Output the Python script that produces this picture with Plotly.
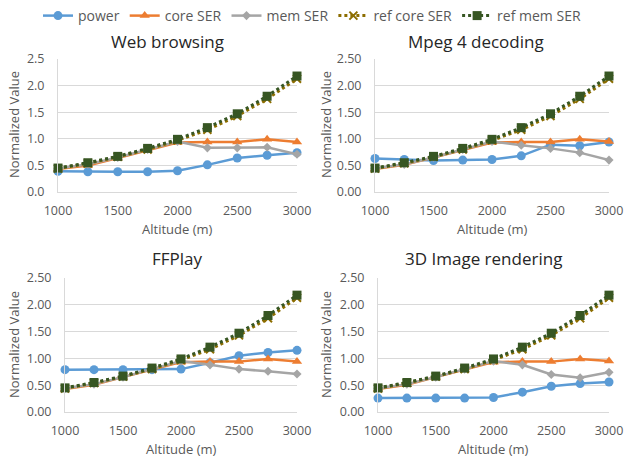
import plotly.graph_objects as go

W, H = 624, 463

altitude = [1000, 1250, 1500, 1750, 2000, 2250, 2500, 2750, 3000]
x_ticks = [1000, 1500, 2000, 2500, 3000]

panel_titles = ["Web browsing", "Mpeg 4 decoding", "FFPlay", "3D Image rendering"]

power = [
    [0.39, 0.38, 0.38, 0.38, 0.40, 0.51, 0.64, 0.69, 0.74],
    [0.63, 0.61, 0.59, 0.60, 0.61, 0.68, 0.89, 0.87, 0.94],
    [0.79, 0.79, 0.79, 0.79, 0.80, 0.92, 1.05, 1.11, 1.15],
    [0.26, 0.26, 0.26, 0.26, 0.27, 0.37, 0.48, 0.53, 0.56],
]
core_ser = [
    [0.43, 0.50, 0.64, 0.79, 0.93, 0.94, 0.94, 0.99, 0.94],
    [0.43, 0.51, 0.65, 0.79, 0.93, 0.94, 0.94, 0.99, 0.95],
    [0.43, 0.51, 0.65, 0.79, 0.93, 0.94, 0.94, 0.99, 0.94],
    [0.43, 0.51, 0.65, 0.79, 0.93, 0.94, 0.94, 0.99, 0.95],
]
mem_ser = [
    [0.44, 0.52, 0.65, 0.80, 0.95, 0.83, 0.83, 0.84, 0.71],
    [0.44, 0.52, 0.65, 0.80, 0.95, 0.88, 0.82, 0.74, 0.60],
    [0.44, 0.52, 0.65, 0.80, 0.95, 0.88, 0.80, 0.76, 0.71],
    [0.44, 0.52, 0.65, 0.80, 0.95, 0.88, 0.70, 0.64, 0.74],
]
ref_core_ser = [0.44, 0.54, 0.66, 0.80, 0.97, 1.17, 1.43, 1.75, 2.13]
ref_mem_ser = [0.45, 0.55, 0.67, 0.82, 0.99, 1.21, 1.47, 1.80, 2.18]

y_formats = [".1f", ".2f", ".2f", ".2f"]
y_ticks = [0, 0.5, 1.0, 1.5, 2.0, 2.5]

# plot-area pixel boxes (left, right, top, bottom)
boxes = [(58, 297, 59, 192), (375, 609, 59, 192), (65, 297, 278, 412), (378, 609, 278, 412)]
title_px = [(167, 42), (476, 42), (177, 258), (483, 258)]
ytitle_px = [(14, 125), (326, 125), (14, 345), (326, 345)]

FONT = "Open Sans"
TICK_COLOR = "#595959"

fig = go.Figure()

series_style = [
    ("power", "#5B9BD5", "solid", 2.5, "circle", 9),
    ("core SER", "#ED7D31", "solid", 2.5, "triangle-up", 9),
    ("mem SER", "#A5A5A5", "solid", 2.5, "diamond", 7),
    ("ref core SER", "#8C6D00", "dot", 3, "x-thin-open", 8),
    ("ref mem SER", "#375623", "dot", 3, "square", 9),
]

for i in range(4):
    ax = "" if i == 0 else str(i + 1)
    data = [power[i], core_ser[i], mem_ser[i], ref_core_ser, ref_mem_ser]
    for (name, color, dash, lw, sym, ms), ys in zip(series_style, data):
        marker = dict(symbol=sym, size=ms, color=color)
        if sym == "x-thin-open":
            marker["line"] = dict(color=color, width=2)
        fig.add_trace(go.Scatter(
            x=altitude, y=ys, mode="lines+markers", name=name,
            line=dict(color=color, width=lw, dash=dash),
            marker=marker, cliponaxis=False,
            showlegend=(i == 0), legendgroup=name,
            xaxis="x" + ax, yaxis="y" + ax,
        ))
    l, r, t, b = boxes[i]
    fig.layout["xaxis" + ax] = dict(
        domain=[l / W, r / W], range=[1000, 3000], anchor="y" + ax,
        tickvals=x_ticks, showgrid=False, zeroline=False, automargin=False,
        showline=True, linecolor="#D9D9D9", linewidth=1,
        ticks="", ticklabelstandoff=7,
        tickfont=dict(family=FONT, size=12.5, color=TICK_COLOR),
    )
    fig.layout["yaxis" + ax] = dict(
        domain=[1 - b / H, 1 - t / H], range=[0, 2.5], anchor="x" + ax,
        tickvals=y_ticks, tickformat=y_formats[i], automargin=False,
        showgrid=True, gridcolor="#D9D9D9", gridwidth=1, zeroline=False,
        showline=True, linecolor="#D9D9D9", linewidth=1,
        ticks="", ticklabelstandoff=10,
        tickfont=dict(family=FONT, size=12.5, color=TICK_COLOR),
    )
    tx, ty = title_px[i]
    fig.add_annotation(text=panel_titles[i], x=tx / W, y=1 - ty / H, xref="paper", yref="paper",
                       showarrow=False, font=dict(family=FONT, size=17, color="#262626"),
                       xanchor="center", yanchor="middle")
    fig.add_annotation(text="Altitude (m)", x=(l + r) / 2 / W, y=1 - (b + 37) / H, xref="paper", yref="paper",
                       showarrow=False, font=dict(family=FONT, size=13, color=TICK_COLOR),
                       xanchor="center", yanchor="middle")
    yx, yy = ytitle_px[i]
    fig.add_annotation(text="Normalized Value", x=yx / W, y=1 - yy / H, xref="paper", yref="paper",
                       showarrow=False, textangle=-90, font=dict(family=FONT, size=13, color=TICK_COLOR),
                       xanchor="center", yanchor="middle")

fig.update_layout(
    width=W, height=H, margin=dict(l=0, r=0, t=0, b=0, autoexpand=False),
    paper_bgcolor="white", plot_bgcolor="white",
    legend=dict(orientation="h", x=0.5, xanchor="center", y=1.0, yanchor="top",
                font=dict(family=FONT, size=14, color=TICK_COLOR), itemwidth=30,
                tracegroupgap=0, traceorder="normal"),
)

fig.write_html("out.html", config={"displayModeBar": False},
               post_script="document.body.style.margin='0px';")
